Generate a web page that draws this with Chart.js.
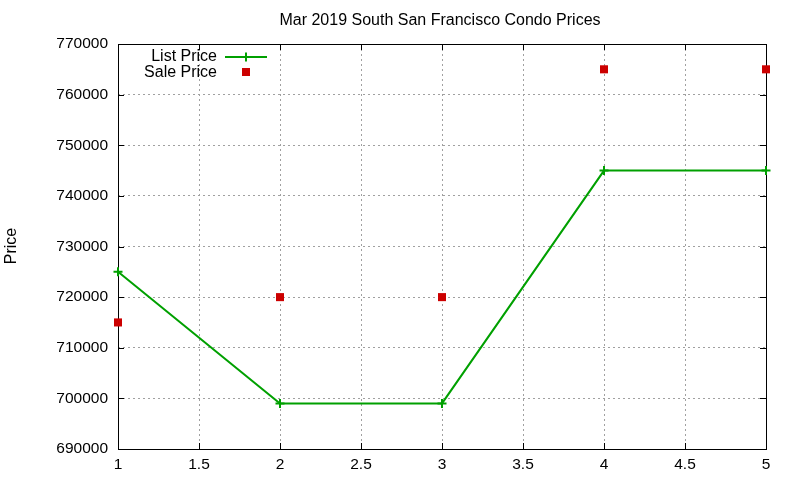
<!DOCTYPE html>
<html>
<head>
<meta charset="utf-8">
<script src="https://cdn.jsdelivr.net/npm/chart.js@4.4.1/dist/chart.umd.min.js"></script>
<style>
  html, body { margin: 0; padding: 0; background: #fff; }
  #wrap { width: 800px; height: 480px; }
</style>
</head>
<body>
<div id="wrap"><canvas id="chart" width="800" height="480"></canvas></div>
<script>
const xValues = [1, 2, 3, 4, 5];
const listPrice = [725000, 699000, 699000, 745000, 745000];
const salePrice = [715000, 720000, 720000, 765000, 765000];
const chartTitle = 'Mar 2019 South San Francisco Condo Prices';
const yLabel = 'Price';

const font = "'Liberation Sans', Arial, sans-serif";

// frame, inner ticks, title, y label and in-plot legend (gnuplot look)
const gnuplotDecor = {
  id: 'gnuplotDecor',
  beforeDatasetsDraw(chart) {
    const { ctx, chartArea: a, scales } = chart;
    ctx.save();
    ctx.strokeStyle = '#000';
    ctx.lineWidth = 1;
    ctx.strokeRect(a.left + 0.5, a.top + 0.5, a.right - a.left, a.bottom - a.top);

    ctx.beginPath();
    scales.x.ticks.forEach(t => {
      const px = Math.round(scales.x.getPixelForValue(t.value)) + 0.5;
      ctx.moveTo(px, a.bottom); ctx.lineTo(px, a.bottom - 6);
      ctx.moveTo(px, a.top); ctx.lineTo(px, a.top + 6);
    });
    scales.y.ticks.forEach(t => {
      const py = Math.round(scales.y.getPixelForValue(t.value)) + 0.5;
      ctx.moveTo(a.left, py); ctx.lineTo(a.left + 6, py);
      ctx.moveTo(a.right, py); ctx.lineTo(a.right - 6, py);
    });
    ctx.stroke();
    ctx.restore();
  },
  afterDatasetsDraw(chart) {
    const { ctx } = chart;
    ctx.save();
    ctx.fillStyle = '#000';
    ctx.font = '16px ' + font;
    ctx.textAlign = 'center';
    ctx.textBaseline = 'middle';
    ctx.fillText(chartTitle, 440, 21);

    ctx.save();
    ctx.translate(12, 246);
    ctx.rotate(-Math.PI / 2);
    ctx.fillText(yLabel, 0, 0);
    ctx.restore();

    // legend
    const ds = chart.data.datasets;
    ctx.textAlign = 'right';
    ctx.fillText(ds[0].label, 217, 57);
    ctx.fillText(ds[1].label, 217, 73);
    ctx.strokeStyle = ds[0].borderColor;
    ctx.lineWidth = 2;
    ctx.beginPath();
    ctx.moveTo(225, 57); ctx.lineTo(267, 57);
    ctx.stroke();
    Chart.helpers.drawPoint(ctx, { pointStyle: 'cross', radius: 4.5, borderWidth: 2 }, 246, 57);
    ctx.fillStyle = ds[1].backgroundColor;
    ctx.fillRect(242, 68, 8, 8);
    ctx.restore();
  }
};

new Chart(document.getElementById('chart'), {
  type: 'scatter',
  data: {
    datasets: [
      {
        label: 'List Price',
        data: xValues.map((x, i) => ({ x: x, y: listPrice[i] })),
        showLine: true,
        clip: false,
        borderColor: '#00a000',
        backgroundColor: '#00a000',
        borderWidth: 2,
        pointStyle: 'cross',
        pointRadius: 4.5,
        pointBorderWidth: 2,
        tension: 0
      },
      {
        label: 'Sale Price',
        data: xValues.map((x, i) => ({ x: x, y: salePrice[i] })),
        showLine: false,
        clip: false,
        borderColor: '#cc0000',
        backgroundColor: '#cc0000',
        pointStyle: 'rect',
        pointRadius: 5.7,
        pointBorderWidth: 0
      }
    ]
  },
  options: {
    responsive: false,
    animation: false,
    layout: { padding: { left: 0, right: 34, top: 44, bottom: 0 } },
    plugins: {
      legend: { display: false },
      title: { display: false },
      tooltip: { enabled: false }
    },
    scales: {
      x: {
        type: 'linear',
        min: 1,
        max: 5,
        afterFit: s => { s.height = 31; },
        ticks: {
          stepSize: 0.5, color: '#000', font: { size: 15.5, family: font }, padding: 6, maxRotation: 0,
          callback: v => String(v)
        },
        grid: { color: '#a0a0a0', lineWidth: 1, drawTicks: false },
        border: { display: false, dash: [2, 3] }
      },
      y: {
        min: 690000,
        max: 770000,
        afterFit: s => { s.width = 118; },
        ticks: {
          stepSize: 10000, color: '#000', font: { size: 15.5, family: font }, padding: 10,
          callback: v => String(v)
        },
        grid: { color: '#a0a0a0', lineWidth: 1, drawTicks: false },
        border: { display: false, dash: [2, 3] }
      }
    }
  },
  plugins: [gnuplotDecor]
});
</script>
</body>
</html>
